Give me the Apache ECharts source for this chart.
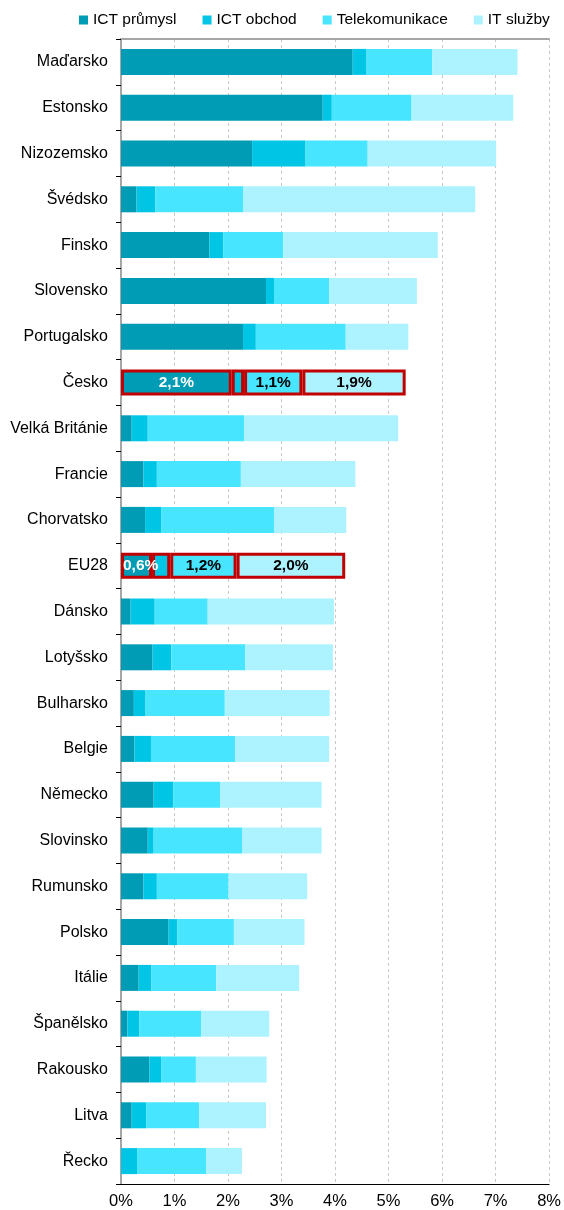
<!DOCTYPE html>
<html>
<head>
<meta charset="utf-8">
<script src="https://cdn.jsdelivr.net/npm/echarts@6/dist/echarts.min.js"></script>
<style>
  html, body { margin: 0; padding: 0; background: #fff; }
  #ict-chart { width: 564px; height: 1210px; }
</style>
</head>
<body>
<div id="ict-chart"></div>
<script>
// data (podíl na HDP, %), order top -> bottom
const categories = ['Maďarsko', 'Estonsko', 'Nizozemsko', 'Švédsko', 'Finsko', 'Slovensko', 'Portugalsko', 'Česko',
  'Velká Británie', 'Francie', 'Chorvatsko', 'EU28', 'Dánsko', 'Lotyšsko', 'Bulharsko', 'Belgie', 'Německo',
  'Slovinsko', 'Rumunsko', 'Polsko', 'Itálie', 'Španělsko', 'Rakousko', 'Litva', 'Řecko'];
const ictPrumysl = [4.33, 3.77, 2.45, 0.29, 1.65, 2.71, 2.28, 2.07, 0.20, 0.42, 0.45, 0.58, 0.18, 0.59, 0.24, 0.25, 0.61, 0.50, 0.42, 0.89, 0.33, 0.12, 0.53, 0.20, 0];
const ictObchod = [0.26, 0.17, 1.00, 0.35, 0.26, 0.15, 0.24, 0.23, 0.30, 0.25, 0.30, 0.34, 0.45, 0.35, 0.22, 0.31, 0.37, 0.11, 0.25, 0.16, 0.24, 0.22, 0.22, 0.27, 0.30];
const telekomunikace = [1.23, 1.49, 1.16, 1.64, 1.12, 1.03, 1.68, 1.09, 1.80, 1.57, 2.11, 1.24, 0.99, 1.38, 1.48, 1.57, 0.87, 1.66, 1.34, 1.06, 1.21, 1.16, 0.65, 0.99, 1.29];
const itSluzby = [1.59, 1.90, 2.40, 4.34, 2.89, 1.64, 1.17, 1.93, 2.88, 2.14, 1.35, 2.03, 2.36, 1.64, 1.96, 1.76, 1.90, 1.48, 1.47, 1.32, 1.55, 1.27, 1.32, 1.25, 0.67];
const xTicks = [0, 1, 2, 3, 4, 5, 6, 7, 8];
const highlighted = ['Česko', 'EU28'];

const font = 'Arial, "Liberation Sans", sans-serif';

// zvýrazněné řádky - červený rámeček + popisek
function buildData(values, labelColor, showLabel) {
  return values.map((v, i) => {
    if (highlighted.indexOf(categories[i]) < 0) return v;
    const item = {
      value: v,
      itemStyle: { borderColor: '#c00000', borderWidth: 3 }
    };
    if (showLabel) {
      item.label = {
        show: true,
        position: v < 1 ? 'insideLeft' : 'inside',
        distance: 2,
        color: labelColor,
        fontWeight: 'bold',
        fontSize: 15.5,
        fontFamily: font,
        formatter: (p) => p.value.toFixed(1).replace('.', ',') + '%'
      };
    }
    return item;
  });
}

function makeSeries(name, values, color, labelColor, showLabel) {
  return {
    type: 'bar',
    name: name,
    stack: 'total',
    barWidth: 26,
    xAxisIndex: 0,
    yAxisIndex: 0,
    itemStyle: { color: color },
    emphasis: { disabled: true },
    data: buildData(values, labelColor, showLabel)
  };
}

const myChart = echarts.init(document.getElementById('ict-chart'));

const option = {
  animation: false,
  textStyle: { fontFamily: font },
  legend: {
    left: 74,
    top: 7,
    itemWidth: 9,
    itemHeight: 9,
    itemGap: 26,
    icon: 'rect',
    textStyle: { fontSize: 15.5, color: '#000', fontFamily: font }
  },
  grid: {
    left: 121,
    right: 14,
    top: 39,
    bottom: 26
  },
  xAxis: [
    {
      type: 'value',
      min: xTicks[0],
      max: xTicks[xTicks.length - 1],
      interval: 1,
      axisLine: { show: true, lineStyle: { color: '#000', width: 1 } },
      axisTick: { show: false },
      axisLabel: {
        color: '#000',
        fontSize: 16.5,
        margin: 9,
        formatter: (v) => v + '%'
      },
      splitLine: {
        show: true,
        lineStyle: { type: [3, 3], color: '#c8c8c8', width: 1 }
      }
    },
    {
      type: 'value',
      position: 'top',
      min: 0,
      max: 8,
      axisLine: { show: true, lineStyle: { color: '#a6a6a6', width: 2 } },
      axisTick: { show: false },
      axisLabel: { show: false },
      splitLine: { show: false }
    }
  ],
  yAxis: [
    {
      type: 'category',
      inverse: true,
      data: categories,
      axisLine: { show: true, lineStyle: { color: '#000', width: 1 } },
      axisTick: { show: true, length: 5, lineStyle: { color: '#000' } },
      axisLabel: { color: '#000', fontSize: 16, margin: 13 }
    },
    {
      type: 'category',
      inverse: true,
      position: 'right',
      data: categories,
      axisLine: { show: true, lineStyle: { color: '#a6a6a6', width: 2 } },
      axisTick: { show: false },
      axisLabel: { show: false }
    }
  ],
  series: [
    makeSeries('ICT průmysl', ictPrumysl, '#009bb4', '#fff', true),
    makeSeries('ICT obchod', ictObchod, '#00c5e5', '#000', false),
    makeSeries('Telekomunikace', telekomunikace, '#47e5ff', '#000', true),
    makeSeries('IT služby', itSluzby, '#adf3ff', '#000', true)
  ]
};

myChart.setOption(option);
</script>
</body>
</html>
